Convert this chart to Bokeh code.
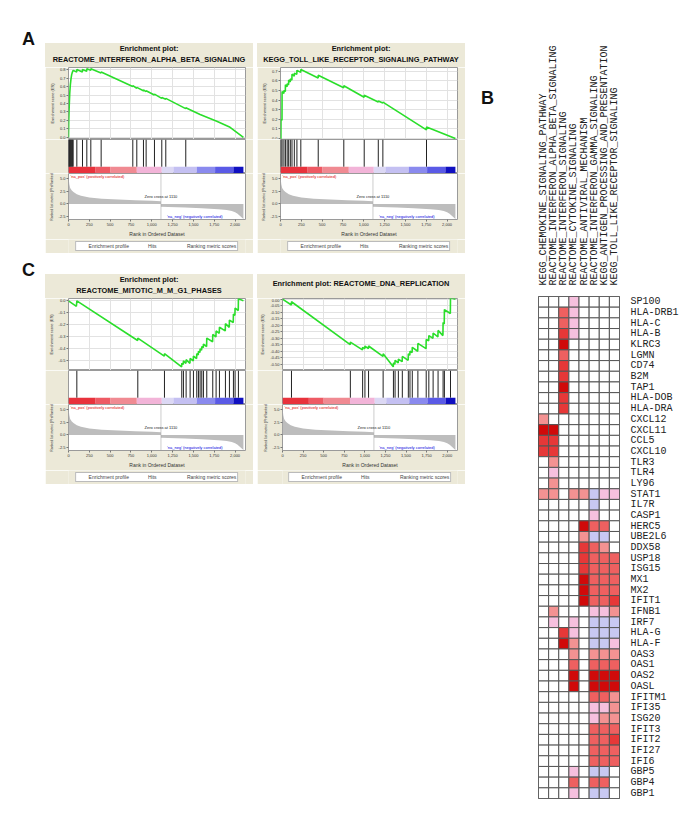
from bokeh.plotting import figure
from bokeh.layouts import row, column
from bokeh.models import (Spacer, Div, FixedTicker, NumeralTickFormatter,
                          PrintfTickFormatter, Legend, LegendItem, Span,
                          Range1d, Label, LinearColorMapper, ColumnDataSource,
                          FactorRange)
from bokeh.embed import file_html
from bokeh.resources import INLINE

# ---------------------------------------------------------------- data
rank_ticks = [0, 250, 500, 750, 1000, 1250, 1500, 1750, 2000]
dataset_size = 2100
zero_cross = 1110

metric_rank = [0, 3, 10, 20, 40, 60, 100, 150, 250, 400, 600, 800, 1000, 1109,
               1110, 1200, 1400, 1600, 1800, 1900, 1960, 2000, 2030, 2060, 2080, 2100]
metric_score = [5.8, 4.8, 3.8, 3.1, 2.6, 2.3, 1.9, 1.6, 1.25, 1.0, 0.85, 0.72, 0.62, 0.55,
                -0.55, -0.6, -0.7, -0.82, -1.0, -1.15, -1.35, -1.6, -1.9, -2.3, -2.6, -2.9]

bar_edges = [0, 320, 500, 820, 1120, 1260, 1540, 1760, 1980, 2100]

a1_title = ["Enrichment plot:", "REACTOME_INTERFERON_ALPHA_BETA_SIGNALING"]
a1_es_rank = [0, 3, 9, 15, 22, 30, 38, 47, 56, 99, 100, 167, 168, 219, 220, 267, 268,
              391, 392, 771, 772, 819, 820, 899, 900, 931, 932, 1031, 1032, 1119, 1120,
              1167, 1168, 1407, 1408, 1580, 1780, 1940, 2100]
a1_es = [0.0, 0.2, 0.38, 0.52, 0.62, 0.69, 0.74, 0.77, 0.79, 0.77, 0.80, 0.77, 0.80,
         0.78, 0.81, 0.79, 0.81, 0.76, 0.77, 0.60, 0.61, 0.58, 0.59, 0.55, 0.56, 0.54,
         0.55, 0.50, 0.51, 0.46, 0.47, 0.45, 0.46, 0.34, 0.35, 0.27, 0.19, 0.12, 0.0]
a1_hits = [3, 9, 15, 22, 30, 38, 47, 56, 100, 168, 220, 268, 392, 772, 820, 900, 932,
           1032, 1120, 1168, 1408]
a1_ticks = [0.0, 0.1, 0.2, 0.3, 0.4, 0.5, 0.6, 0.7, 0.8]

a2_title = ["Enrichment plot:", "KEGG_TOLL_LIKE_RECEPTOR_SIGNALING_PATHWAY"]
a2_es_rank = [0, 5, 6, 18, 19, 40, 41, 58, 59, 79, 80, 97, 98, 117, 118, 137, 138, 165,
              166, 196, 197, 243, 244, 452, 453, 759, 760, 1004, 1005, 1173, 1174, 1228,
              1229, 1752, 1753, 2100]
a2_es = [0.0, 0.0, 0.2, 0.19, 0.49, 0.47, 0.50, 0.49, 0.56, 0.54, 0.57, 0.56, 0.61, 0.59,
         0.62, 0.61, 0.67, 0.65, 0.68, 0.67, 0.71, 0.69, 0.72, 0.63, 0.66, 0.53, 0.55,
         0.43, 0.45, 0.38, 0.39, 0.37, 0.38, 0.09, 0.12, 0.0]
a2_hits = [6, 19, 41, 59, 80, 98, 118, 138, 166, 197, 244, 453, 760, 1005, 1174, 1229, 1753]
a2_ticks = [0.0, 0.1, 0.2, 0.3, 0.4, 0.5, 0.6, 0.7]

c1_title = ["Enrichment plot:", "REACTOME_MITOTIC_M_M_G1_PHASES"]
c1_es_rank = [0, 95, 100, 830, 832, 1150, 1152, 1358, 1360, 1378, 1380, 1410, 1412, 1458,
              1460, 1498, 1500, 1538, 1540, 1558, 1560, 1578, 1580, 1598, 1600, 1618, 1620,
              1658, 1660, 1730, 1732, 1770, 1772, 1810, 1812, 1882, 1884, 1930, 1932, 1978,
              1980, 1998, 2000, 2038, 2040, 2100]
c1_es = [0.0, -0.045, 0.0, -0.33, -0.31, -0.46, -0.44, -0.55, -0.52, -0.53, -0.50, -0.52,
         -0.49, -0.52, -0.48, -0.50, -0.46, -0.48, -0.44, -0.45, -0.42, -0.43, -0.40, -0.41,
         -0.38, -0.39, -0.36, -0.38, -0.31, -0.34, -0.28, -0.30, -0.25, -0.27, -0.22, -0.25,
         -0.19, -0.22, -0.16, -0.18, -0.11, -0.12, -0.06, -0.08, 0.02, 0.0]
c1_hits = [100, 832, 1152, 1360, 1380, 1412, 1460, 1500, 1540, 1560, 1580, 1600, 1620,
           1660, 1732, 1772, 1812, 1884, 1932, 1980, 2000, 2040]
c1_ticks = [-0.5, -0.4, -0.3, -0.2, -0.1, 0.0]

c2_title = ["Enrichment plot: REACTOME_DNA_REPLICATION"]
c2_es_rank = [0, 108, 109, 822, 824, 971, 973, 999, 1001, 1043, 1045, 1220, 1222, 1345,
              1347, 1365, 1367, 1405, 1407, 1453, 1455, 1526, 1528, 1546, 1548, 1574, 1576,
              1642, 1644, 1743, 1745, 1775, 1777, 1827, 1829, 1887, 1889, 1948, 1950, 1964,
              1966, 2038, 2040, 2100]
c2_es = [0.0, -0.045, -0.02, -0.35, -0.33, -0.39, -0.37, -0.38, -0.36, -0.38, -0.36,
         -0.44, -0.42, -0.52, -0.49, -0.50, -0.47, -0.49, -0.46, -0.48, -0.44, -0.47,
         -0.42, -0.43, -0.40, -0.41, -0.37, -0.40, -0.34, -0.38, -0.31, -0.32, -0.28,
         -0.30, -0.26, -0.29, -0.24, -0.28, -0.18, -0.19, -0.08, -0.11, 0.01, 0.0]
c2_hits = [109, 824, 973, 1001, 1045, 1222, 1347, 1367, 1407, 1455, 1528, 1548, 1576,
           1644, 1745, 1777, 1829, 1889, 1950, 1966, 2040]
c2_ticks = [-0.50, -0.45, -0.40, -0.35, -0.30, -0.25, -0.20, -0.15, -0.10, -0.05, 0.00]

genes = ["SP100", "HLA-DRB1", "HLA-C", "HLA-B", "KLRC3", "LGMN", "CD74", "B2M", "TAP1",
         "HLA-DOB", "HLA-DRA", "CXCL12", "CXCL11", "CCL5", "CXCL10", "TLR3", "TLR4",
         "LY96", "STAT1", "IL7R", "CASP1", "HERC5", "UBE2L6", "DDX58", "USP18", "ISG15",
         "MX1", "MX2", "IFIT1", "IFNB1", "IRF7", "HLA-G", "HLA-F", "OAS3", "OAS1", "OAS2",
         "OASL", "IFITM1", "IFI35", "ISG20", "IFIT3", "IFIT2", "IFI27", "IFI6", "GBP5",
         "GBP4", "GBP1"]
pathways = ["KEGG_CHEMOKINE_SIGNALING_PATHWAY",
            "REACTOME_INTERFERON_ALPHA_BETA_SIGNALING",
            "REACTOME_INTERFERON_SIGNALING",
            "REACTOME_CYTOKINE_SIGNALING",
            "REACTOME_ANTIVIRAL_MECHANISM",
            "REACTOME_INTERFERON_GAMMA_SIGNALING",
            "KEGG_ANTIGEN_PROCESSING_AND_PRESENTATION",
            "KEGG_TOLL_LIKE_RECEPTOR_SIGNALING"]
# level per gene (-1 = light blue ... 5 = dark red, 0 = not in set)
lv_chemokine = [0,0,0,0,0,0,0,0,0,0, 0,2,5,4,4,0,0,0,2,0, 0,0,0,0,0,0,0,0,0,0,
                0,0,0,0,0,0,0,0,0,0, 0,0,0,0,0,0,0]
lv_ifn_ab = [0,0,0,0,0,0,0,0,0,0, 0,0,5,4,4,2,1,2,2,0, 0,0,0,0,0,0,0,0,0,2,
             1,0,0,0,0,0,0,0,0,0, 0,0,0,0,0,0,0]
lv_ifn = [0,3,3,4,5,3,4,4,5,4, 4,0,0,0,0,0,0,0,0,0, 0,0,0,0,0,0,0,0,0,0,
          0,4,5,0,0,0,0,0,0,0, 0,0,0,0,0,0,0]
lv_cytokine = [1,1,1,1,0,0,0,0,0,0, 0,0,0,0,0,0,0,0,2,0, 0,0,0,0,0,0,0,0,0,0,
               1,1,2,2,3,5,5,0,0,0, 0,0,0,0,1,3,1]
lv_antiviral = [0,0,0,0,0,0,0,0,0,0, 0,0,0,0,0,0,0,0,2,0, 0,5,2,4,4,4,5,5,5,0,
                0,0,0,0,0,0,0,0,0,0, 0,0,0,0,0,0,0]
lv_ifn_gamma = [0,0,0,0,0,0,0,0,0,0, 0,0,0,0,0,0,0,0,-1,-1, 1,3,-1,3,3,3,3,3,3,1,
                -1,-1,-1,2,3,5,5,3,1,1, 3,3,3,3,-1,3,-1]
lv_antigen = [0,0,0,0,0,0,0,0,0,0, 0,0,0,0,0,0,0,0,1,0, 0,3,-1,2,3,3,3,3,3,1,
              -1,-1,-1,2,3,5,5,3,1,2, 3,3,3,3,-1,3,-1]
lv_tlr = [0,0,0,0,0,0,0,0,0,0, 0,0,0,0,0,0,0,0,1,0, 0,0,0,0,3,3,3,3,4,2,
          -1,-1,1,2,3,5,5,2,2,2, 3,4,3,3,0,0,0]
pathway_levels = [lv_chemokine, lv_ifn_ab, lv_ifn, lv_cytokine, lv_antiviral,
                  lv_ifn_gamma, lv_antigen, lv_tlr]

# ---------------------------------------------------------------- style
BEIGE = "#ECE9D8"
FONT = "Liberation Sans"
MONO = "Liberation Mono"
GREEN = "#2BDE2B"
FRAME = "#9A9A9A"
BAR_COLORS = ["#E8323C", "#EE5A64", "#F08A92", "#F2B4D8", "#DCD8F4", "#C4C0F2",
              "#8A8AEE", "#5A5AE6", "#1010C0"]
HEAT_PALETTE = ["#C8C8F2", "#FFFFFF", "#F6C0DE", "#F39292", "#EE6060", "#E63838", "#D00A0A"]
W = 208


def style_axis(ax, label=None, label_size="4px"):
    ax.axis_line_color = None
    ax.major_tick_line_color = "#777777"
    ax.major_tick_out = 2
    ax.major_tick_in = 0
    ax.minor_tick_line_color = None
    ax.major_label_text_font = FONT
    ax.major_label_text_font_size = "4px"
    ax.major_label_text_color = "#333333"
    ax.major_label_standoff = 1
    ax.axis_label_text_font = FONT
    ax.axis_label_text_font_size = label_size
    ax.axis_label_text_font_style = "normal"
    ax.axis_label_text_color = "#333333"
    ax.axis_label_standoff = 2
    if label:
        ax.axis_label = label


def gsea_panel(title_lines, es_rank, es_score, hits, es_lo, es_hi, es_ticks, es_fmt):
    xr = Range1d(0, 2125)
    common = dict(width=W, output_backend="svg", toolbar_location=None, x_range=xr,
                  min_border_left=23, min_border_right=8, border_fill_color=BEIGE,
                  background_fill_color="white", outline_line_color=FRAME)

    # --- title block
    lh = "11px" if len(title_lines) == 2 else "19px"
    tdiv = Div(text="<br>".join(title_lines), width=W, height=24, margin=0,
               styles={"background-color": BEIGE, "text-align": "center",
                       "font-family": FONT, "font-weight": "bold",
                       "font-size": "7.4px", "line-height": lh, "color": "#111111",
                       "white-space": "nowrap"})

    # --- running enrichment score
    es = figure(height=72, y_range=Range1d(es_lo, es_hi), x_axis_location=None,
                min_border_top=0, min_border_bottom=0, title=None, **common)
    yt = FixedTicker(ticks=es_ticks)
    es.yaxis.ticker = yt
    es.ygrid.ticker = yt
    es.xgrid.ticker = FixedTicker(ticks=rank_ticks)
    es.grid.grid_line_color = "#E2E2E2"
    es.yaxis.formatter = PrintfTickFormatter(format=es_fmt)
    style_axis(es.yaxis[0], "Enrichment score (ES)")
    es.line(es_rank, es_score, line_color=GREEN, line_width=1.6)

    # --- hits + colour bar
    hf = figure(height=34, y_range=Range1d(0, 1), x_axis_location=None,
                y_axis_location=None, min_border_top=0, min_border_bottom=0, **common)
    hf.grid.visible = False
    hf.quad(left=bar_edges[:-1], right=bar_edges[1:], bottom=0, top=0.2,
            fill_color=BAR_COLORS, line_color=None)
    hf.segment(x0=hits, y0=0.2, x1=hits, y1=1, line_color="#222222", line_width=1)

    # --- ranked list metric
    mf = figure(height=66, y_range=Range1d(-3.0, 5.9), min_border_top=0,
                min_border_bottom=16, **common)
    mf.grid.visible = False
    mf.varea(x=metric_rank, y1=0, y2=metric_score, fill_color="#BDBDBD")
    mf.add_layout(Span(location=zero_cross, dimension="height", line_color="#999999",
                       line_dash="1 1", line_width=1))
    mf.add_layout(Label(x=25, y=5.85, text="'na_pos' (positively correlated)",
                        text_font=FONT, text_font_size="4px", text_color="#E00000",
                        text_baseline="top"))
    mf.add_layout(Label(x=zero_cross, y=1.4, text="Zero cross at %d" % zero_cross,
                        text_font=FONT, text_font_size="4px", text_color="#222222",
                        text_align="center", text_baseline="middle"))
    mf.add_layout(Label(x=1850, y=-2.5, text="'na_neg' (negatively correlated)",
                        text_font=FONT, text_font_size="4px", text_color="#0000E0",
                        text_align="right", text_baseline="middle"))
    mf.xaxis.ticker = FixedTicker(ticks=rank_ticks)
    mf.xaxis.formatter = NumeralTickFormatter(format="0,0")
    style_axis(mf.xaxis[0], "Rank in Ordered Dataset", "5px")
    mf.yaxis.ticker = FixedTicker(ticks=[-2.5, 0.0, 2.5, 5.0])
    mf.yaxis.formatter = PrintfTickFormatter(format="%.1f")
    style_axis(mf.yaxis[0], "Ranked list metric (PreRanked)", "3.5px")

    # --- legend strip
    lf = figure(width=W, height=14, output_backend="svg", toolbar_location=None,
                x_axis_location=None, y_axis_location=None, min_border=0,
                border_fill_color=BEIGE, background_fill_color=BEIGE,
                outline_line_color=None)
    lf.grid.visible = False
    r1 = lf.line(x=[], y=[], line_color=GREEN, line_width=1.6)
    r2 = lf.line(x=[], y=[], line_color="#222222", line_width=1)
    r3 = lf.line(x=[], y=[], line_color="#C8C8C8", line_width=1)
    leg = Legend(items=[LegendItem(label="Enrichment profile", renderers=[r1]),
                        LegendItem(label="Hits", renderers=[r2]),
                        LegendItem(label="Ranking metric scores", renderers=[r3])],
                 orientation="horizontal", location="center",
                 label_text_font=FONT, label_text_font_size="5px",
                 glyph_width=10, glyph_height=5, label_height=5, label_standoff=2,
                 spacing=7, padding=1, margin=0, border_line_color="#777777",
                 background_fill_color="white", background_fill_alpha=1.0)
    lf.add_layout(leg, "center")

    return column(tdiv, es, hf, mf, lf, spacing=0)


pA1 = gsea_panel(a1_title, a1_es_rank, a1_es, a1_hits, -0.024, 0.824, a1_ticks, "%.1f")
pA2 = gsea_panel(a2_title, a2_es_rank, a2_es, a2_hits, -0.01, 0.74, a2_ticks, "%.1f")
pC1 = gsea_panel(c1_title, c1_es_rank, c1_es, c1_hits, -0.58, 0.02, c1_ticks, "%.1f")
pC2 = gsea_panel(c2_title, c2_es_rank, c2_es, c2_hits, -0.548, 0.005, c2_ticks, "%.2f")

# ---------------------------------------------------------------- heatmap
hx, hy, hl = [], [], []
for pw, lv in zip(pathways, pathway_levels):
    for g, v in zip(genes, lv):
        hx.append(pw)
        hy.append(g)
        hl.append(v)
src = ColumnDataSource(data=dict(pathway=hx, gene=hy, level=hl))
mapper = LinearColorMapper(palette=HEAT_PALETTE, low=-1.5, high=5.5)

hm = figure(width=180, height=800, x_range=FactorRange(*pathways),
            y_range=FactorRange(*genes[::-1]), x_axis_location="above",
            y_axis_location="right", output_backend="svg", toolbar_location=None,
            min_border_left=37, min_border_right=58, min_border_top=288,
            min_border_bottom=10, outline_line_color="#444444",
            background_fill_color="white", border_fill_color="white")
hm.grid.visible = False
hm.rect(x="pathway", y="gene", width=1, height=1, source=src,
        fill_color={"field": "level", "transform": mapper},
        line_color="#555555", line_width=1)
for ax in (hm.xaxis[0], hm.yaxis[0]):
    ax.axis_line_color = None
    ax.major_tick_line_color = None
    ax.minor_tick_line_color = None
    ax.major_label_text_font = MONO
    ax.major_label_text_font_size = "10px"
    ax.major_label_text_color = "#222222"
    ax.major_label_standoff = 5
hm.xaxis.major_label_orientation = "vertical"

# ---------------------------------------------------------------- layout
LETTER = {"font-size": "18px", "font-weight": "bold", "font-family": "Liberation Sans",
          "line-height": "18px", "color": "#111111"}
divA = Div(text="A", width=20, height=20, margin=0, styles=LETTER)
divC = Div(text="C", width=20, height=20, margin=0, styles=LETTER)
divB = Div(text="B", width=20, height=20, margin=0, styles=LETTER)

letters = row(Spacer(width=14),
              column(Spacer(height=22), divA, Spacer(height=211), divC), Spacer(width=3))
panels = column(Spacer(height=35),
                row(pA1, Spacer(width=4), pA2),
                Spacer(height=21),
                row(pC1, Spacer(width=4), pC2))
bcol = column(Spacer(height=81), divB)

root = column(Spacer(height=8),
              row(Spacer(width=8), letters, panels, Spacer(width=16), bcol, hm))

open("out.html", "w").write(file_html(root, INLINE))
